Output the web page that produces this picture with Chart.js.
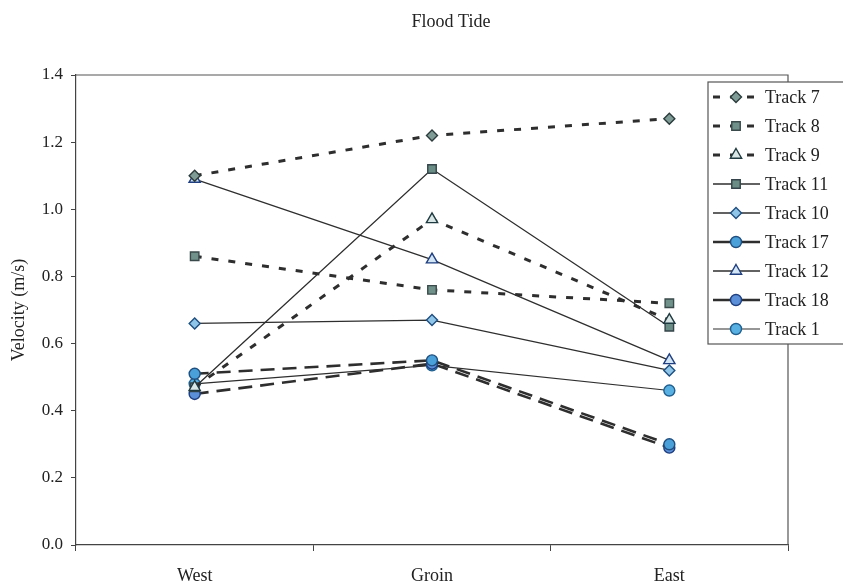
<!DOCTYPE html>
<html>
<head>
<meta charset="utf-8">
<script src="https://cdn.jsdelivr.net/npm/chart.js@4.4.1/dist/chart.umd.min.js"></script>
<style>
  body { margin: 0; background: #fff; }
  #wrap { width: 843px; height: 588px; }
</style>
</head>
<body>
<div id="wrap"><canvas id="floodChart"></canvas></div>
<script>
const categories = ['West', 'Groin', 'East'];
const yTicks = [0, 0.2, 0.4, 0.6, 0.8, 1.0, 1.2, 1.4];

const track7  = [1.10, 1.22, 1.27];
const track8  = [0.86, 0.76, 0.72];
const track9  = [0.47, 0.97, 0.67];
const track11 = [0.47, 1.12, 0.65];
const track10 = [0.66, 0.67, 0.52];
const track17 = [0.51, 0.55, 0.30];
const track12 = [1.09, 0.85, 0.55];
const track18 = [0.45, 0.54, 0.29];
const track1  = [0.48, 0.535, 0.46];

const serif = '"Liberation Serif", "DejaVu Serif", serif';
const shortDash = [7, 10];
const longDash = [14, 8];

function track(label, data, style, fill, edge, dash, width) {
    return {
        label: label,
        data: data,
        borderColor: '#2e2e2e',
        borderWidth: width,
        borderDash: dash,
        pointStyle: style,
        pointRadius: style === 'rect' ? 6 : (style === 'triangle' ? 6.5 : 5.5),
        pointBackgroundColor: fill,
        pointBorderColor: edge,
        pointBorderWidth: 1.4,
        tension: 0,
        fill: false
    };
}

const datasets = [
    track('Track 7',  track7,  'rectRot',  '#7f9b95', '#2b3b3b', shortDash, 3),
    track('Track 8',  track8,  'rect',     '#6f918a', '#3a4a4a', shortDash, 3),
    track('Track 9',  track9,  'triangle', '#d8e6e6', '#1f3a40', shortDash, 3),
    track('Track 11', track11, 'rect',     '#6a8d86', '#34444a', [], 1.3),
    track('Track 10', track10, 'rectRot',  '#8ec5e8', '#1f4f80', [], 1.3),
    track('Track 17', track17, 'circle',   '#4aa0d8', '#1f4f80', longDash, 2.6),
    track('Track 12', track12, 'triangle', '#d2e5f4', '#1f3f80', [], 1.3),
    track('Track 18', track18, 'circle',   '#5b8fd8', '#1f3f80', longDash, 2.6),
    track('Track 1',  track1,  'circle',   '#58b0e2', '#1f5f90', [], 1.1)
];

// box round the plot, title and the legend sitting over the plot
const extras = {
    id: 'extras',
    beforeDatasetsDraw(chart) {
        const { ctx, chartArea: a } = chart;
        ctx.save();
        ctx.strokeStyle = '#555';
        ctx.lineWidth = 1.2;
        ctx.beginPath();
        ctx.moveTo(a.left, a.top);
        ctx.lineTo(a.right, a.top);
        ctx.lineTo(a.right, a.bottom);
        ctx.stroke();
        ctx.restore();
    },
    afterDraw(chart) {
        const ctx = chart.ctx;
        ctx.save();
        ctx.fillStyle = '#222';
        ctx.font = '18px ' + serif;
        ctx.textAlign = 'center';
        ctx.textBaseline = 'middle';
        ctx.fillText('Flood Tide', 451, 22);

        // legend
        const bx = 708, by = 82, bw = 150, bh = 262;
        ctx.fillStyle = '#fff';
        ctx.fillRect(bx, by, bw, bh);
        ctx.strokeStyle = '#555';
        ctx.lineWidth = 1.2;
        ctx.strokeRect(bx, by, bw, bh);

        chart.data.datasets.forEach((ds, i) => {
            const y = 97 + i * 29;
            ctx.strokeStyle = ds.borderColor;
            ctx.lineWidth = ds.borderWidth;
            // long dashes look solid in the short legend sample
            ctx.setLineDash(ds.borderDash === longDash ? [] : ds.borderDash);
            ctx.beginPath();
            ctx.moveTo(713, y);
            ctx.lineTo(760, y);
            ctx.stroke();
            ctx.setLineDash([]);
            ctx.fillStyle = ds.pointBackgroundColor;
            ctx.strokeStyle = ds.pointBorderColor;
            ctx.lineWidth = ds.pointBorderWidth;
            Chart.helpers.drawPoint(ctx, {
                pointStyle: ds.pointStyle,
                radius: ds.pointRadius,
                borderWidth: ds.pointBorderWidth,
                rotation: 0
            }, 736, y);
            ctx.fillStyle = '#222';
            ctx.font = '18px ' + serif;
            ctx.textAlign = 'left';
            ctx.fillText(ds.label, 765, y + 1);
        });
        ctx.restore();
    }
};

const ctx = document.getElementById('floodChart').getContext('2d');
const floodChart = new Chart(ctx, {
    type: 'line',
    data: { labels: categories, datasets: datasets },
    options: {
        responsive: true,
        maintainAspectRatio: false,
        animation: false,
        events: [],
        layout: { padding: { top: 75, right: 55, left: 0, bottom: 0 } },
        plugins: {
            legend: { display: false },
            title: { display: false },
            tooltip: { enabled: false }
        },
        scales: {
            x: {
                offset: true,
                grid: { offset: true, drawOnChartArea: false, drawTicks: true, tickLength: 6, color: '#444' },
                border: { color: '#444', width: 1.2 },
                ticks: { color: '#222', padding: 14, font: { family: serif, size: 18 } },
                afterFit(scale) { scale.height = 43; }
            },
            y: {
                min: 0,
                max: 1.4,
                afterBuildTicks(scale) { scale.ticks = yTicks.map(v => ({ value: v })); },
                grid: { drawOnChartArea: false, drawTicks: true, tickLength: 5, color: '#444' },
                border: { color: '#444', width: 1.2 },
                ticks: {
                    color: '#222',
                    padding: 8,
                    font: { family: serif, size: 17 },
                    callback: v => Number(v).toFixed(1)
                },
                title: {
                    display: true,
                    text: 'Velocity (m/s)',
                    color: '#222',
                    font: { family: serif, size: 18 },
                    padding: { top: 8, bottom: 0 }
                },
                afterFit(scale) { scale.width = 76; }
            }
        }
    },
    plugins: [extras]
});
</script>
</body>
</html>
